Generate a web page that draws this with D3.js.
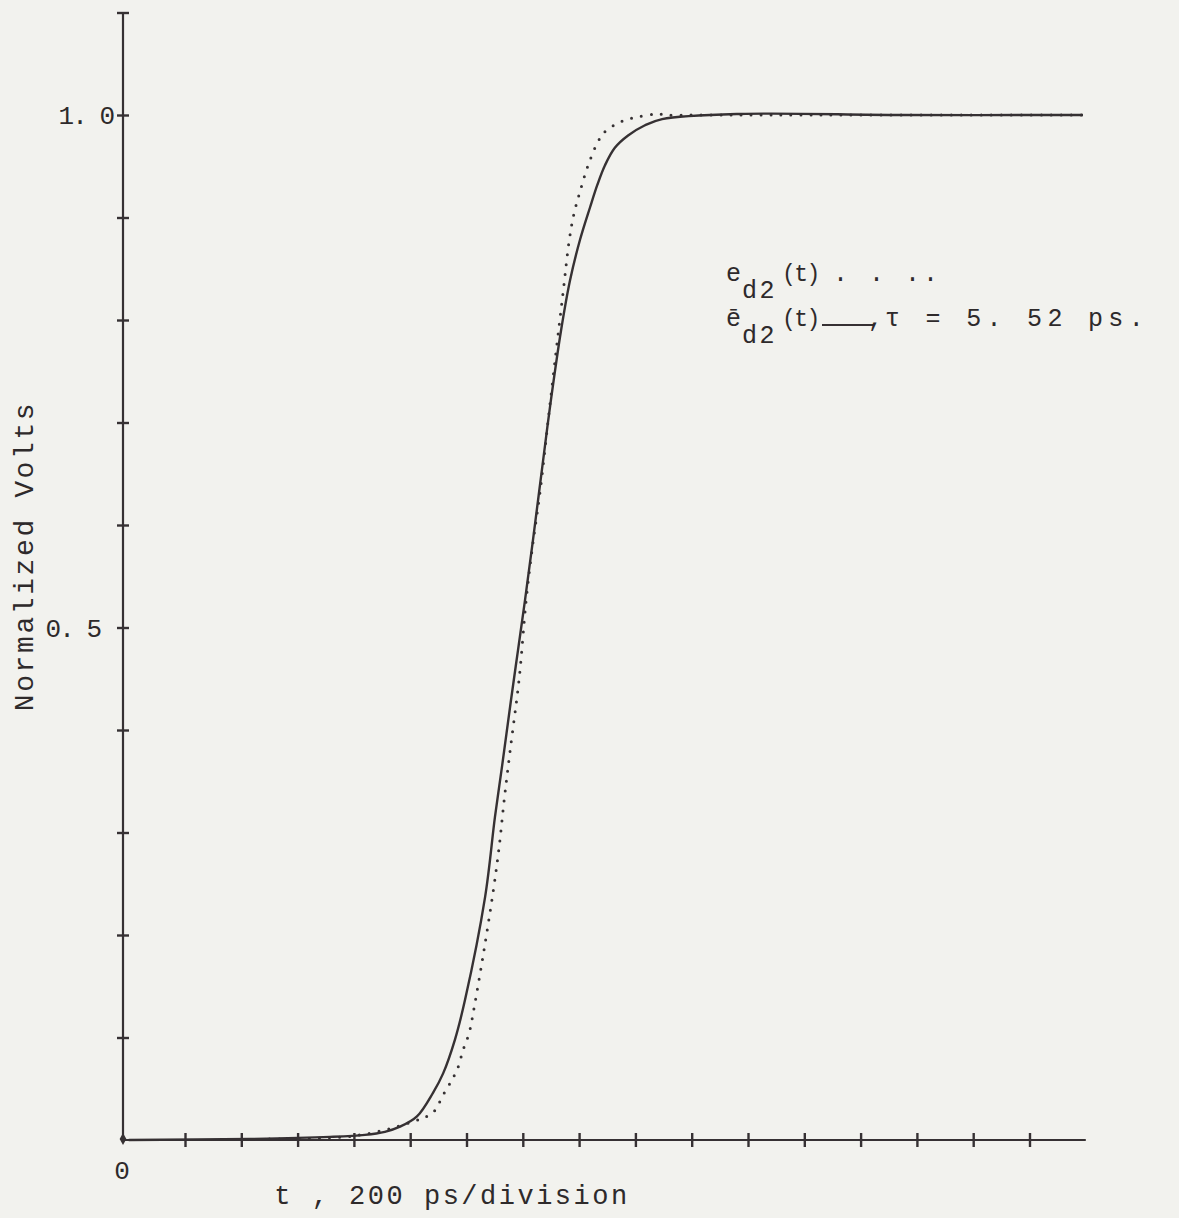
<!DOCTYPE html>
<html>
<head>
<meta charset="utf-8">
<script src="https://cdn.jsdelivr.net/npm/d3@7"></script>
<style>
  body { margin: 0; background: #f2f2ee; }
  svg { display: block; }
  text { font-family: "Liberation Mono", "DejaVu Sans Mono", monospace; fill: #2e2a2b; }
</style>
</head>
<body>
<div id="chart"></div>
<script>
// time in ps (200 ps per division), normalized volts
const tModel = [0, 431, 715, 839, 910, 964, 1024, 1081, 1117, 1159, 1195, 1266, 1301, 1326, 1358, 1383, 1408, 1436, 1468, 1500, 1536, 1568, 1603, 1639, 1665, 1692, 1727, 1774, 1834, 1895, 2172, 2740, 3390];
const vModel = [0, 0.001, 0.003, 0.005, 0.008, 0.013, 0.023, 0.046, 0.065, 0.098, 0.137, 0.237, 0.315, 0.364, 0.429, 0.478, 0.527, 0.585, 0.654, 0.722, 0.790, 0.839, 0.878, 0.910, 0.932, 0.951, 0.968, 0.980, 0.990, 0.996, 1.001, 1.0, 1.0];

const tMeas = [500, 800, 1000, 1081, 1117, 1149, 1170, 1188, 1209, 1227, 1262, 1295, 1316, 1334, 1355, 1387, 1412, 1433, 1462, 1490, 1519, 1544, 1565, 1582, 1603, 1632, 1667, 1689, 1745, 1806, 1877, 1912, 2030, 2400, 3390];
const vMeas = [0.001, 0.004, 0.017, 0.027, 0.044, 0.059, 0.071, 0.088, 0.104, 0.129, 0.185, 0.243, 0.286, 0.332, 0.380, 0.450, 0.527, 0.576, 0.634, 0.702, 0.771, 0.829, 0.878, 0.904, 0.925, 0.951, 0.974, 0.983, 0.993, 0.998, 1.001, 1.0, 1.0, 1.0, 1.0];

const xTicks = d3.range(200, 3201, 200);
const yTicks = [0.1, 0.2, 0.3, 0.4, 0.5, 0.6, 0.7, 0.8, 0.9, 1.0, 1.1];
const yLabels = [[0.5, "0. 5"], [1.0, "1. 0"]];

const W = 1179, H = 1218;
const ink = "#363133";

const svg = d3.select("#chart").append("svg")
  .attr("width", W).attr("height", H);

svg.append("rect").attr("width", W).attr("height", H).attr("fill", "#f2f2ee");

const x = d3.scaleLinear().domain([0, 3200]).range([128.7, 1029.5]);
const y = d3.scaleLinear().domain([0, 1.1]).range([1140, 12.5]);
const axisX = 123;

// axes lines
svg.append("line")
  .attr("x1", axisX).attr("x2", axisX)
  .attr("y1", y(0)).attr("y2", y(1.1))
  .attr("stroke", ink).attr("stroke-width", 2.2);
svg.append("line")
  .attr("x1", axisX).attr("x2", x(3400))
  .attr("y1", y(0)).attr("y2", y(0))
  .attr("stroke", ink).attr("stroke-width", 2.2);

// x ticks (crosses)
const gx = svg.append("g")
  .attr("transform", `translate(0,${y(0)})`)
  .call(d3.axisBottom(x).tickValues(xTicks).tickFormat("").tickSize(7));
gx.select(".domain").remove();
gx.selectAll(".tick line").attr("y1", -7).attr("y2", 7)
  .attr("stroke", ink).attr("stroke-width", 2.4);

// y ticks (crosses)
const gy = svg.append("g")
  .attr("transform", `translate(${axisX},0)`)
  .call(d3.axisLeft(y).tickValues(yTicks).tickFormat("").tickSize(6));
gy.select(".domain").remove();
gy.selectAll(".tick line").attr("x1", -6).attr("x2", 6)
  .attr("stroke", ink).attr("stroke-width", 2.4);

// origin mark
svg.append("path")
  .attr("d", d3.symbol(d3.symbolDiamond, 40)())
  .attr("transform", `translate(${axisX},${y(0) - 1})`)
  .attr("fill", ink);

// y labels
svg.selectAll(".ylab")
  .data(yLabels)
  .join("text")
  .attr("class", "ylab")
  .attr("x", d => d[0] === 1.0 ? 113 : 100)
  .attr("y", d => y(d[0]) + 9)
  .attr("text-anchor", "end")
  .style("font-size", "26px")
  .style("letter-spacing", "-2px")
  .text(d => d[1]);

svg.append("text")
  .attr("x", axisX - 1).attr("y", 1179)
  .attr("text-anchor", "middle")
  .style("font-size", "26px")
  .text("0");

// axis titles
svg.append("text")
  .attr("transform", "translate(33,556) rotate(-90)")
  .attr("text-anchor", "middle")
  .style("font-size", "28px")
  .style("letter-spacing", "2.6px")
  .text("Normalized Volts");

svg.append("text")
  .attr("x", 452).attr("y", 1204)
  .attr("text-anchor", "middle")
  .style("font-size", "27px")
  .style("letter-spacing", "2.5px")
  .text("t , 200 ps/division");

// curves
const model = tModel.map((t, i) => [t, vModel[i]]);
const meas = tMeas.map((t, i) => [t, vMeas[i]]);

const line = d3.line()
  .x(d => x(d[0]))
  .y(d => y(d[1]))
  .curve(d3.curveCatmullRom.alpha(0.5));

svg.append("path")
  .datum(model)
  .attr("fill", "none")
  .attr("stroke", ink)
  .attr("stroke-width", 2.4)
  .attr("d", line);

svg.append("path")
  .datum(meas)
  .attr("fill", "none")
  .attr("stroke", ink)
  .attr("stroke-width", 3)
  .attr("stroke-linecap", "round")
  .attr("stroke-dasharray", "0 10")
  .attr("d", line);

// legend
function legendLabel(yBase, mark) {
  const t = svg.append("text").attr("x", 726).attr("y", yBase)
    .style("font-size", "25px");
  t.append("tspan").text(mark);
  t.append("tspan").attr("x", 742).attr("dy", 17)
    .style("letter-spacing", "2.5px").text("d2");
  t.append("tspan").attr("x", 782).attr("dy", -17)
    .style("font-size", "23px").style("letter-spacing", "-1.5px").text("(t)");
}
legendLabel(281, "e");
legendLabel(326, "ē");

svg.append("text")
  .attr("x", 833).attr("y", 281)
  .style("font-size", "25px")
  .style("letter-spacing", "3px")
  .text(". . ..");

svg.append("line")
  .attr("x1", 822).attr("x2", 874)
  .attr("y1", 325).attr("y2", 325)
  .attr("stroke", ink).attr("stroke-width", 1.8);

svg.append("text")
  .attr("x", 868).attr("y", 326)
  .style("font-size", "25px")
  .text(",");

svg.append("text")
  .attr("x", 885).attr("y", 326)
  .style("font-size", "25px")
  .style("letter-spacing", "5.3px")
  .text("τ = 5. 52 ps.");
</script>
</body>
</html>
